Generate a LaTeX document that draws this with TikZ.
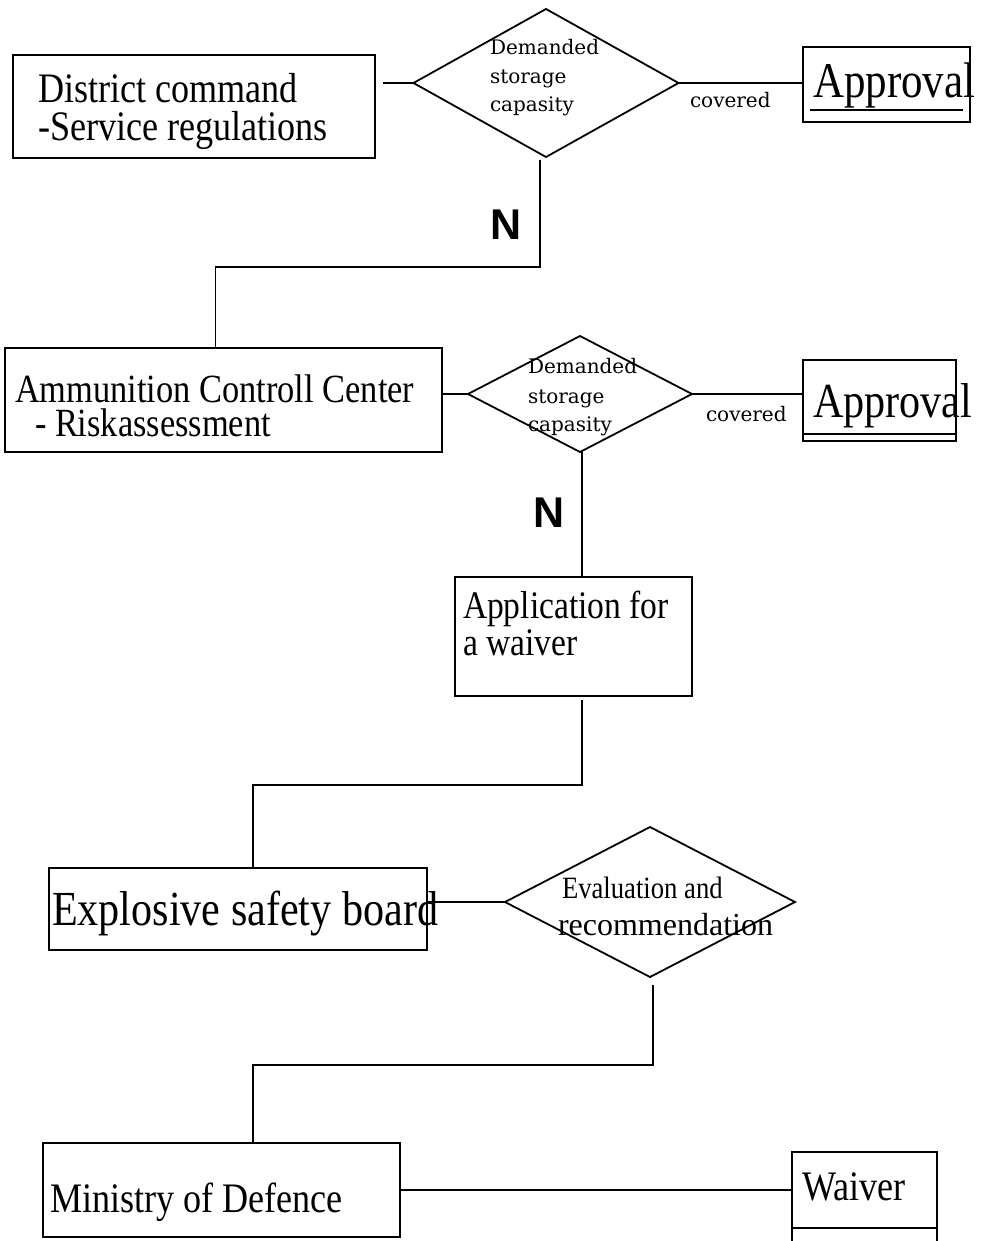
\documentclass[tikz,border=0pt]{standalone}
\usepackage{fontspec}
\setmainfont{Liberation Serif}
\newfontfamily\bxfont[FakeStretch=0.86]{Liberation Serif}
\newfontfamily\plainserif{Liberation Serif}
\newfontfamily\smfont{DejaVu Serif}
\newfontfamily\nfont{Liberation Sans}
\usetikzlibrary{shapes.geometric}
\begin{document}
\begin{tikzpicture}[x=1pt,y=-1pt,
  shp/.style={draw, line width=1.8pt, inner sep=0pt, outer sep=0pt},
  boxshape/.style={shp, rectangle},
  dia/.style={shp, diamond},
  conn/.style={line width=1.8pt},
  txt/.style={anchor=base west, inner sep=0pt, outer sep=0pt},
  bigtxt/.style={txt, font={\bxfont\fontsize{#1}{#1}\selectfont}},
  smtxt/.style={txt, font={\smfont\fontsize{20}{20}\selectfont}},
  ntxt/.style={txt, font={\nfont\bfseries\fontsize{43}{43}\selectfont}}]
\clip (0,0) rectangle (980,1241);
\fill[white] (0,0) rectangle (980,1241);

% boxes
\node[boxshape, minimum width=362pt, minimum height=103pt] (dc) at (194,106.5) {};
\node[boxshape, minimum width=437pt, minimum height=104pt] (ac) at (223.5,400) {};
\node[boxshape, minimum width=167pt, minimum height=75pt] (ap1) at (886.5,84.5) {};
\node[boxshape, minimum width=153pt, minimum height=81pt] (ap2) at (879.5,400.5) {};
\node[boxshape, minimum width=237pt, minimum height=119pt] (app) at (573.5,636.5) {};
\node[boxshape, minimum width=378pt, minimum height=82pt] (eb) at (238,909) {};
\node[boxshape, minimum width=357pt, minimum height=94pt] (mod) at (221.5,1190) {};
\node[boxshape, minimum width=145pt, minimum height=100pt] (wv) at (864.5,1202) {};

% diamonds
\node[dia, minimum width=265pt, minimum height=148pt] (d1) at (546,83) {};
\node[dia, minimum width=224pt, minimum height=116pt] (d2) at (580,394) {};
\node[dia, minimum width=290pt, minimum height=150pt] (d3) at (650,902) {};

% inner lines of approval / waiver boxes
\draw[conn] ([shift={(7,-12)}]ap1.south west) -- ([shift={(-7,-12)}]ap1.south east);
\draw[conn] ([shift={(0,-7)}]ap2.south west) -- ([shift={(0,-7)}]ap2.south east);
\draw[conn] ([shift={(0,-24)}]wv.south west) -- ([shift={(0,-24)}]wv.south east);

% box texts
\node[bigtxt=42] (t1a) at (38,103) {District command};
\node[bigtxt=42] (t1b) at (38,141) {-Service regulations};
\node[txt, align=left, font={\bxfont\fontsize{40}{34}\selectfont}] (t2) at (15,436)
  {Ammunition Controll Center\\\hspace*{20pt}- Riskassessment};
\node[bigtxt=50] (t3) at (813,98) {Approval};
\node[bigtxt=49] (t4) at (813,417) {Approval};
\node[bigtxt=39] (t5a) at (463,618) {Application for};
\node[bigtxt=39] (t5b) at (463,655) {a waiver};
\node[bigtxt=49] (t6) at (52,925) {Explosive safety board};
\node[bigtxt=42] (t7) at (50,1212) {Ministry of Defence};
\node[bigtxt=42] (t8) at (802,1200) {Waiver};

% diamond texts
\node[smtxt] (s1a) at (490,55) {Demanded};
\node[smtxt] (s1b) at (490,84) {storage};
\node[smtxt] (s1c) at (490,112) {capasity};
\node[smtxt] (s2a) at (528,373) {Demanded};
\node[smtxt] (s2b) at (528,403) {storage};
\node[smtxt] (s2c) at (528,431) {capasity};
\node[bigtxt=31] (s3a) at (562,898) {Evaluation and};
\node[txt, font={\plainserif\fontsize{32}{32}\selectfont}] (s3b) at (558,935) {recommendation};
\node[smtxt] (cv1) at (690,108) {covered};
\node[smtxt] (cv2) at (706,421) {covered};
\node[ntxt] (n1) at (490,240) {N};
\node[ntxt] (n2) at (533,527) {N};

% connectors
\coordinate (k1) at (540,267);
\coordinate (k2) at (582,785);
\coordinate (k3) at (653,1065);
\draw[conn, shorten <=8pt] (dc.east |- d1.west) -- (d1.west);
\draw[conn] (d1.east) -- (d1.east -| ap1.west);
\draw[conn, shorten <=3pt] (d1.south -| k1) -- (k1) -| ([xshift=-8pt]ac.north);
\draw[conn] (ac.east |- d2.west) -- (d2.west);
\draw[conn] (d2.east) -- (d2.east -| ap2.west);
\draw[conn] ([xshift=2pt]d2.south) -- ([xshift=2pt]d2.south |- app.north);
\draw[conn, shorten <=4pt] (app.south -| k2) -- (k2) -| ([xshift=15pt]eb.north);
\draw[conn] (eb.east |- d3.west) -- (d3.west);
\draw[conn, shorten <=8pt] (d3.south -| k3) -- (k3) -| ([xshift=31.5pt]mod.north);
\draw[conn] (mod.east) -- (mod.east -| wv.west);
\end{tikzpicture}
\end{document}
